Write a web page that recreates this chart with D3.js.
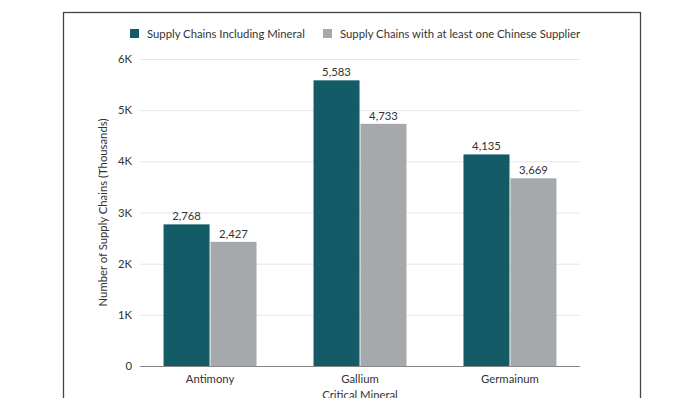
<!DOCTYPE html>
<html>
<head>
    <meta charset="utf-8">
    <title>Supply Chains by Critical Mineral</title>
    <script src="https://d3js.org/d3.v7.min.js"></script>
</head>
<style>
    body { margin: 0; background: #fff; }
    svg text { font-family: Lato, sans-serif; fill: #333; }
</style>
<body>
    <svg id="chart"></svg>
    <script>
        // data
        var minerals = ["Antimony", "Gallium", "Germainum"];
        var seriesNames = ["Supply Chains Including Mineral", "Supply Chains with at least one Chinese Supplier"];
        var includingMineral = [2768, 5583, 4135];
        var chineseSupplier = [2427, 4733, 3669];
        var yTicks = [0, 1000, 2000, 3000, 4000, 5000, 6000];
        var yTickLabels = ["0", "1K", "2K", "3K", "4K", "5K", "6K"];
        var colors = ["#135c67", "#a6a9ac"];

        var width = 696, height = 398;
        var plotLeft = 140, plotRight = 580, plotTop = 59, plotBottom = 366;
        var fs = "11.3px";

        var svg = d3.select("#chart").attr("width", width).attr("height", height);

        // frame
        svg.append("rect")
            .attr("x", 63.5).attr("y", 12.5)
            .attr("width", 577).attr("height", 420)
            .attr("fill", "none").attr("stroke", "#444").attr("stroke-width", 1.3);

        var x = d3.scaleBand().domain(minerals).range([plotLeft, plotRight])
            .paddingInner(0.38).paddingOuter(0.157);
        var xs = d3.scaleBand().domain([0, 1]).range([0, x.bandwidth()]).paddingInner(0.02);
        var y = d3.scaleLinear().domain([0, 6000]).range([plotBottom, plotTop]);

        // gridlines + y tick labels
        var yAxis = d3.axisLeft(y).tickValues(yTicks)
            .tickSize(-(plotRight - plotLeft)).tickPadding(8)
            .tickFormat(function (d, i) { return yTickLabels[i]; });
        var ga = svg.append("g").attr("transform", "translate(" + plotLeft + ",0)").call(yAxis);
        ga.select(".domain").remove();
        ga.selectAll("line").attr("stroke", "#e6e6e6");
        ga.selectAll("text").style("font-size", fs).attr("fill", "#333");

        // bars
        var rows = minerals.map(function (m, i) {
            return { name: m, values: [includingMineral[i], chineseSupplier[i]] };
        });
        var grp = svg.selectAll("g.grp").data(rows).enter().append("g")
            .attr("class", "grp")
            .attr("transform", function (d) { return "translate(" + x(d.name) + ",0)"; });
        grp.selectAll("rect").data(function (d) { return d.values; }).enter().append("rect")
            .attr("x", function (d, i) { return xs(i); })
            .attr("y", function (d) { return y(d); })
            .attr("width", xs.bandwidth())
            .attr("height", function (d) { return plotBottom - y(d); })
            .attr("fill", function (d, i) { return colors[i]; });
        grp.selectAll("text").data(function (d) { return d.values; }).enter().append("text")
            .attr("x", function (d, i) { return xs(i) + xs.bandwidth() / 2; })
            .attr("y", function (d) { return y(d) - 4; })
            .attr("text-anchor", "middle")
            .style("font-size", fs)
            .text(function (d) { return d3.format(",")(d); });

        // baseline
        svg.append("line")
            .attr("x1", plotLeft).attr("x2", plotRight)
            .attr("y1", plotBottom + 0.5).attr("y2", plotBottom + 0.5)
            .attr("stroke", "#888").attr("stroke-width", 1);

        // x axis labels
        var xAxis = d3.axisBottom(x).tickSize(0).tickPadding(9);
        var gx = svg.append("g").attr("transform", "translate(0," + plotBottom + ")").call(xAxis);
        gx.select(".domain").remove();
        gx.selectAll("text").style("font-size", fs).attr("fill", "#333");

        svg.append("text")
            .attr("x", (plotLeft + plotRight) / 2).attr("y", 399)
            .attr("text-anchor", "middle").style("font-size", fs)
            .text("Critical Mineral");

        svg.append("text")
            .attr("transform", "translate(107," + (plotTop + plotBottom) / 2 + ") rotate(-90)")
            .attr("text-anchor", "middle").style("font-size", fs)
            .text("Number of Supply Chains (Thousands)");

        // legend
        var legendX = [130, 323];
        var lg = svg.selectAll("g.lg").data(seriesNames).enter().append("g")
            .attr("class", "lg")
            .attr("transform", function (d, i) { return "translate(" + legendX[i] + ",29)"; });
        lg.append("rect").attr("width", 9).attr("height", 9)
            .attr("fill", function (d, i) { return colors[i]; });
        lg.append("text").attr("x", 17).attr("y", 8.5)
            .style("font-size", fs)
            .text(function (d) { return d; });
    </script>
</body>
</html>
